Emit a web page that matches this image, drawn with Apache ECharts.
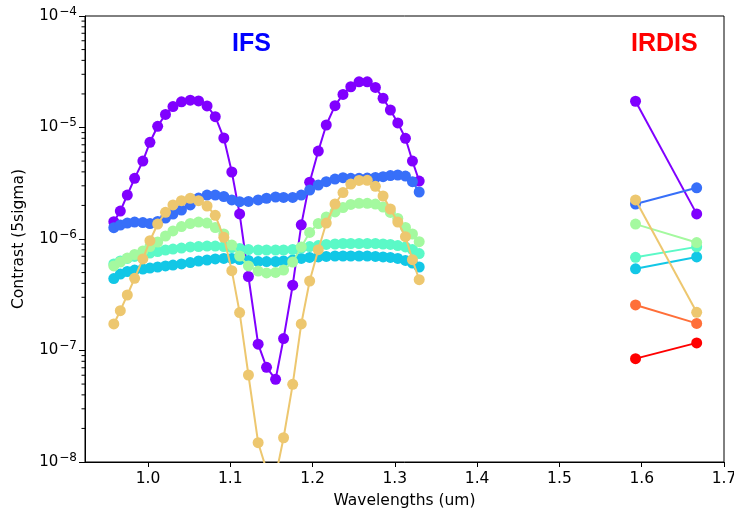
<!DOCTYPE html>
<html>
<head>
<meta charset="utf-8">
<script src="https://cdn.jsdelivr.net/npm/echarts@6/dist/echarts.min.js"></script>
<style>html,body{margin:0;padding:0;background:#fff}#c{width:734px;height:512px}</style>
</head>
<body>
<div id="c"></div>
<script>
// IFS wavelengths (um)
const ifsWave = [0.9585,0.9664,0.9749,0.9838,0.9938,1.0024,1.0118,1.0213,1.0304,1.0407,1.0514,1.0615,1.0718,1.0818,1.0922,1.1019,1.1114,1.1221,1.1339,1.1441,1.1551,1.1648,1.1759,1.1863,1.1965,1.2070,1.2167,1.2273,1.2370,1.2465,1.2565,1.2665,1.2764,1.2857,1.2946,1.3036,1.3129,1.3214,1.3296];
// IRDIS wavelengths (um)
const irdisWave = [1.5925, 1.6668];

// IFS contrast curves
const ifsPurple = [1.43e-6,1.78e-6,2.48e-6,3.50e-6,5.00e-6,7.37e-6,1.025e-5,1.31e-5,1.54e-5,1.70e-5,1.76e-5,1.73e-5,1.56e-5,1.25e-5,8.05e-6,3.99e-6,1.68e-6,4.61e-7,1.14e-7,7.07e-8,5.51e-8,1.28e-7,3.85e-7,1.34e-6,3.23e-6,6.15e-6,1.053e-5,1.57e-5,1.98e-5,2.32e-5,2.57e-5,2.57e-5,2.29e-5,1.83e-5,1.435e-5,1.10e-5,8.0e-6,5.0e-6,3.31e-6];
const ifsBlue = [1.263e-6,1.335e-6,1.391e-6,1.42e-6,1.405e-6,1.377e-6,1.435e-6,1.543e-6,1.676e-6,1.82e-6,2.02e-6,2.33e-6,2.48e-6,2.48e-6,2.405e-6,2.24e-6,2.16e-6,2.17e-6,2.24e-6,2.32e-6,2.38e-6,2.36e-6,2.36e-6,2.48e-6,2.75e-6,3.05e-6,3.27e-6,3.45e-6,3.55e-6,3.50e-6,3.50e-6,3.52e-6,3.56e-6,3.62e-6,3.71e-6,3.75e-6,3.67e-6,3.27e-6,2.64e-6];
const ifsCyan = [4.42e-7,4.85e-7,5.11e-7,5.27e-7,5.38e-7,5.49e-7,5.61e-7,5.73e-7,5.84e-7,5.97e-7,6.15e-7,6.35e-7,6.48e-7,6.62e-7,6.69e-7,6.69e-7,6.55e-7,6.42e-7,6.28e-7,6.28e-7,6.28e-7,6.35e-7,6.48e-7,6.69e-7,6.83e-7,6.90e-7,6.97e-7,7.04e-7,7.04e-7,7.04e-7,7.04e-7,7.04e-7,6.97e-7,6.90e-7,6.83e-7,6.69e-7,6.42e-7,6.09e-7,5.61e-7];
const ifsTeal = [5.97e-7,6.35e-7,6.69e-7,6.97e-7,7.26e-7,7.49e-7,7.72e-7,7.97e-7,8.13e-7,8.30e-7,8.48e-7,8.56e-7,8.65e-7,8.65e-7,8.56e-7,8.39e-7,8.22e-7,8.05e-7,7.97e-7,7.97e-7,7.97e-7,7.97e-7,8.05e-7,8.30e-7,8.56e-7,8.74e-7,8.93e-7,9.02e-7,9.11e-7,9.11e-7,9.11e-7,9.11e-7,9.11e-7,9.02e-7,8.93e-7,8.74e-7,8.48e-7,8.05e-7,7.41e-7];
const ifsGreen = [5.73e-7,6.22e-7,6.75e-7,7.26e-7,7.81e-7,8.56e-7,9.40e-7,1.064e-6,1.18e-6,1.294e-6,1.377e-6,1.42e-6,1.391e-6,1.268e-6,1.109e-6,8.83e-7,7.04e-7,5.73e-7,5.16e-7,4.96e-7,5.01e-7,5.27e-7,6.22e-7,8.48e-7,1.144e-6,1.377e-6,1.575e-6,1.747e-6,1.916e-6,2.04e-6,2.09e-6,2.09e-6,2.055e-6,1.936e-6,1.729e-6,1.527e-6,1.268e-6,1.109e-6,9.46e-7];
const ifsGold = [1.73e-7,2.275e-7,3.146e-7,4.44e-7,6.62e-7,9.65e-7,1.362e-6,1.736e-6,2.02e-6,2.206e-6,2.32e-6,2.206e-6,1.977e-6,1.632e-6,1.035e-6,5.2e-7,2.19e-7,6.03e-8,1.49e-8,8.5e-9,7.4e-9,1.65e-8,4.97e-8,1.73e-7,4.2e-7,8.02e-7,1.391e-6,2.06e-6,2.61e-6,3.11e-6,3.35e-6,3.36e-6,2.97e-6,2.43e-6,1.858e-6,1.42e-6,1.048e-6,6.52e-7,4.32e-7];

// IRDIS contrast (H2, H3)
const irdisPurple = [1.72e-5, 1.68e-6];
const irdisBlue = [2.06e-6, 2.88e-6];
const irdisCyan = [5.4e-7, 6.9e-7];
const irdisTeal = [6.85e-7, 8.5e-7];
const irdisGreen = [1.36e-6, 9.3e-7];
const irdisGold = [2.24e-6, 2.2e-7];
const irdisOrange = [2.56e-7, 1.75e-7];
const irdisRed = [8.45e-8, 1.17e-7];

// axis ticks
const xTicks = [1.0, 1.1, 1.2, 1.3, 1.4, 1.5, 1.6, 1.7];
const yMinorTicks = [];
[1e-8, 1e-7, 1e-6, 1e-5].forEach(d => { [2,3,4,5,6,7,8,9].forEach(m => yMinorTicks.push(+(m * d).toPrecision(3))); });

const colors = ['#8000ff', '#376ff9', '#12c7e6', '#5bf9c7', '#a4f99f', '#edc76f', '#ff6f39', '#ff0000'];
const ifsSets = [ifsPurple, ifsBlue, ifsCyan, ifsTeal, ifsGreen, ifsGold, null, null];
const irdisSets = [irdisPurple, irdisBlue, irdisCyan, irdisTeal, irdisGreen, irdisGold, irdisOrange, irdisRed];

const X_MIN = 0.9235, X_MAX = 1.7;
const FONT = 'DejaVu Sans';

const series = [];
colors.forEach((c, k) => {
  const common = {
    type: 'line', symbol: 'circle', symbolSize: 11, showAllSymbol: true,
    lineStyle: { color: c, width: 2 }, itemStyle: { color: c },
    clip: true, silent: true, z: 2 + k
  };
  if (ifsSets[k]) series.push(Object.assign({}, common, { data: ifsWave.map((w, i) => [w, ifsSets[k][i]]) }));
  series.push(Object.assign({}, common, { data: irdisWave.map((w, i) => [w, irdisSets[k][i]]) }));
});
// y minor ticks drawn through the axis scale
series.push({
  type: 'custom', silent: true, clip: false, z: 20,
  data: yMinorTicks.map(v => [X_MIN, v]),
  renderItem: (params, api) => {
    const p = api.coord([api.value(0), api.value(1)]);
    return { type: 'line', shape: { x1: p[0] - 3.5, y1: p[1], x2: p[0], y2: p[1] }, style: { stroke: '#000', lineWidth: 1 } };
  }
});

const chart = echarts.init(document.getElementById('c'), null, { renderer: 'canvas' });
chart.setOption({
  animation: false,
  backgroundColor: '#fff',
  grid: { left: 85, right: 10, top: 16, bottom: 50, outerBoundsMode: 'none', containLabel: false, show: true, borderColor: '#000', borderWidth: 1, backgroundColor: 'transparent' },
  xAxis: {
    type: 'value', min: X_MIN, max: X_MAX,
    name: 'Wavelengths (um)', nameLocation: 'middle', nameGap: 31,
    nameTextStyle: { fontFamily: FONT, fontSize: 15.5, color: '#000' },
    axisLine: { show: true, onZero: false, lineStyle: { color: '#000', width: 1 } },
    axisTick: { show: true, length: 5, lineStyle: { color: '#000' }, customValues: xTicks },
    axisLabel: { customValues: xTicks, fontFamily: FONT, fontSize: 15.5, color: '#000', margin: 9, hideOverlap: false, formatter: v => v.toFixed(1) },
    splitLine: { show: false }
  },
  yAxis: {
    type: 'log', logBase: 10, min: 1e-8, max: 1e-4,
    name: 'Contrast (5sigma)', nameLocation: 'middle', nameGap: 58, nameRotate: 90,
    nameTextStyle: { fontFamily: FONT, fontSize: 15.5, color: '#000' },
    axisLine: { show: true, lineStyle: { color: '#000', width: 1 } },
    axisTick: { show: true, length: 6, lineStyle: { color: '#000' } },
    axisLabel: {
      fontFamily: FONT, color: '#000', margin: 8,
      formatter: v => '{b|10}{s|\u2212' + Math.round(-Math.log10(v)) + '}',
      rich: {
        b: { fontFamily: FONT, fontSize: 15, color: '#000' },
        s: { fontFamily: FONT, fontSize: 12, color: '#000', verticalAlign: 'top', padding: [0, 0, 9, 1] }
      }
    },
    splitLine: { show: false }
  },
  graphic: [
    { type: 'text', left: 232, top: 32, style: { text: 'IFS', fill: '#0000ff', font: 'bold 25px "Liberation Sans", Arial, sans-serif' } },
    { type: 'text', left: 631, top: 32, style: { text: 'IRDIS', fill: '#ff0000', font: 'bold 25px "Liberation Sans", Arial, sans-serif' } }
  ],
  series: series
});
</script>
</body>
</html>
